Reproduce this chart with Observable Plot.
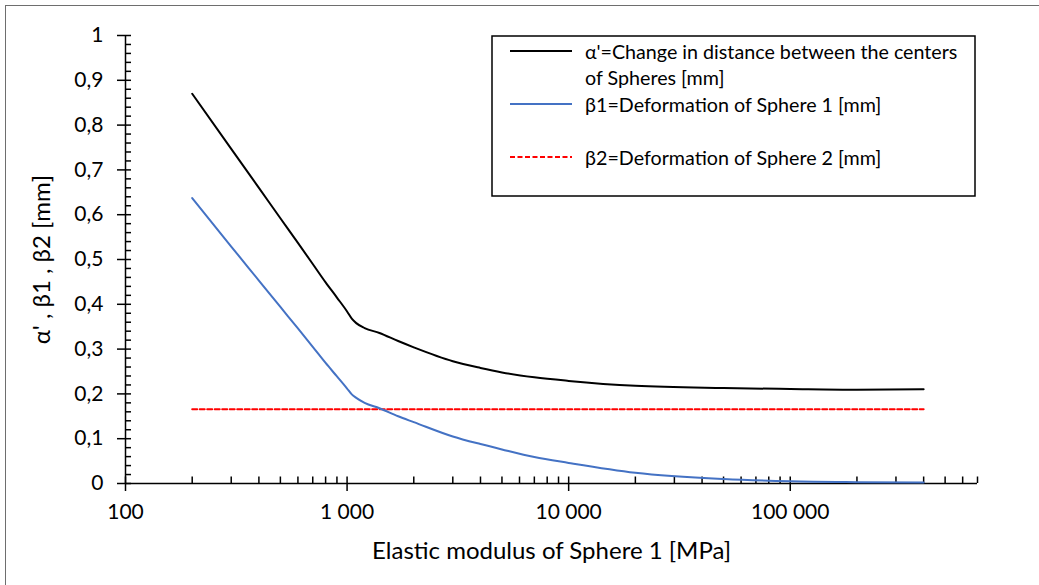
<!DOCTYPE html>
<html>
<head>
<meta charset="utf-8">
<script src="https://cdn.jsdelivr.net/npm/d3@7"></script>
<script src="https://cdn.jsdelivr.net/npm/@observablehq/plot@0.6"></script>
<style>
  html, body { margin: 0; padding: 0; background: #fff; }
  #wrap { position: relative; width: 1039px; height: 585px; overflow: hidden; font-family: Lato, sans-serif; }
  #border { position: absolute; left: 5px; top: 5px; width: 1100px; height: 700px; border-left: 1.5px solid #6e6e6e; border-top: 1.5px solid #6e6e6e; pointer-events: none; }
  #legend { position: absolute; left: 0; top: 0; }
</style>
</head>
<body>
<div id="wrap"><div id="border"></div></div>
<script>
// Elastic modulus of Sphere 1 [MPa]
const E      = [200, 300, 400, 500, 600, 700, 800, 900, 1000, 1050, 1100, 1200, 1400, 1700, 2000, 3000, 4000, 5000, 7000, 10000, 20000, 50000, 100000, 200000, 400000];
// α' = change in distance between the centers [mm]
const alpha  = [0.870, 0.747, 0.660, 0.592, 0.537, 0.490, 0.449, 0.415, 0.384, 0.368, 0.358, 0.347, 0.336, 0.318, 0.304, 0.273, 0.258, 0.248, 0.237, 0.229, 0.218, 0.213, 0.211, 0.2095, 0.2105];
// β1 = deformation of Sphere 1 [mm]
const beta1  = [0.637, 0.529, 0.453, 0.394, 0.346, 0.305, 0.269, 0.239, 0.212, 0.199, 0.191, 0.180, 0.168, 0.150, 0.137, 0.105, 0.088, 0.076, 0.059, 0.046, 0.024, 0.010, 0.005, 0.003, 0.002];
// β2 = deformation of Sphere 2 [mm]
const beta2E = [200, 400000];
const beta2  = [0.166, 0.166];

const xTicks = [100, 1000, 10000, 100000];
const yTicks = [0, 0.1, 0.2, 0.3, 0.4, 0.5, 0.6, 0.7, 0.8, 0.9, 1];
const seriesNames = [
  ["α'=Change in distance between the centers", "of Spheres [mm]"],
  ["β1=Deformation of Sphere 1 [mm]"],
  ["β2=Deformation of Sphere 2 [mm]"]
];
const xTitle = "Elastic modulus of Sphere 1 [MPa]";
const yTitle = "α' , β1 , β2 [mm]";

const alphaData = E.map((e, i) => ({E: e, v: alpha[i]}));
const beta1Data = E.map((e, i) => ({E: e, v: beta1[i]}));
const beta2Data = beta2E.map((e, i) => ({E: e, v: beta2[i]}));

const W = 1039, H = 585;
const mL = 125, mR = 62, mT = 35, mB = 102;
const plotW = W - mL - mR, plotH = H - mT - mB;

const xMinor = [];
for (const d of [100, 1000, 10000, 100000]) for (let k = 1; k <= 9; k++) if (d * k <= 700000) xMinor.push(d * k);
const yMinor = d3.range(0, 1.0001, 0.02);

const fmtX = d => d3.format(",")(d).replace(/,/g, " ");
const fmtY = d => (d === 0 || d === 1) ? String(d) : d.toFixed(1).replace(".", ",");

const chart = Plot.plot({
  width: W, height: H,
  marginLeft: mL, marginRight: mR, marginTop: mT, marginBottom: mB,
  x: {type: "log", domain: [100, 700000]},
  y: {domain: [0, 1]},
  style: {fontFamily: "Lato, sans-serif", fontSize: "21px", color: "#000", background: "transparent"},
  marks: [
    Plot.axisX({ticks: xTicks, tickFormat: fmtX, tickSize: 8, tickPadding: 13, label: null, strokeWidth: 1.5}),
    Plot.tickX(xMinor, {x: d => d, insetTop: plotH - 6.5, stroke: "#000", strokeWidth: 1.5}),
    Plot.axisY({ticks: yTicks, tickFormat: fmtY, tickSize: 8, tickPadding: 14, label: null, strokeWidth: 1.5}),
    Plot.tickY(yMinor, {y: d => d, insetRight: plotW - 6, stroke: "#000", strokeWidth: 1.5}),
    Plot.ruleY([0], {stroke: "#000", strokeWidth: 1.5}),
    Plot.ruleX([100], {stroke: "#000", strokeWidth: 1.5}),
    Plot.line(beta2Data, {x: "E", y: "v", stroke: "#FF0000", strokeWidth: 2, strokeDasharray: "5,2.5"}),
    Plot.line(beta1Data, {x: "E", y: "v", stroke: "#4472C4", strokeWidth: 2, curve: "monotone-x"}),
    Plot.line(alphaData, {x: "E", y: "v", stroke: "#000", strokeWidth: 2, curve: "monotone-x"}),
    Plot.text([xTitle], {text: d => d, frameAnchor: "bottom", dy: 68, fontSize: 24, lineAnchor: "middle", fill: "#000"}),
    Plot.text([yTitle], {text: d => d, frameAnchor: "left", dx: -83, rotate: -90, fontSize: 24, lineAnchor: "middle", textAnchor: "middle", fill: "#000"})
  ]
});
chart.style.position = "absolute";
chart.style.left = "0px";
chart.style.top = "0px";
const wrap = document.getElementById("wrap");
wrap.appendChild(chart);

// Legend box
const ns = "http://www.w3.org/2000/svg";
const lg = document.createElementNS(ns, "svg");
lg.setAttribute("id", "legend");
lg.setAttribute("width", W);
lg.setAttribute("height", H);
const rect = document.createElementNS(ns, "rect");
rect.setAttribute("x", 492); rect.setAttribute("y", 36);
rect.setAttribute("width", 483); rect.setAttribute("height", 160);
rect.setAttribute("fill", "#fff"); rect.setAttribute("stroke", "#000"); rect.setAttribute("stroke-width", 1.5);
lg.appendChild(rect);
const entries = [
  {color: "#000", dash: null, y: 51, lines: seriesNames[0]},
  {color: "#4472C4", dash: null, y: 104, lines: seriesNames[1]},
  {color: "#FF0000", dash: "5,2.5", y: 157, lines: seriesNames[2]}
];
for (const e of entries) {
  const l = document.createElementNS(ns, "line");
  l.setAttribute("x1", 510); l.setAttribute("x2", 572);
  l.setAttribute("y1", e.y); l.setAttribute("y2", e.y);
  l.setAttribute("stroke", e.color); l.setAttribute("stroke-width", 2);
  if (e.dash) l.setAttribute("stroke-dasharray", e.dash);
  lg.appendChild(l);
  e.lines.forEach((s, i) => {
    const t = document.createElementNS(ns, "text");
    t.setAttribute("x", 585); t.setAttribute("y", e.y + i * 26.3);
    t.setAttribute("dominant-baseline", "central");
    t.setAttribute("font-family", "Lato, sans-serif");
    t.setAttribute("font-size", 19.7);
    t.setAttribute("fill", "#000");
    t.textContent = s;
    lg.appendChild(t);
  });
}
wrap.appendChild(lg);
</script>
</body>
</html>
